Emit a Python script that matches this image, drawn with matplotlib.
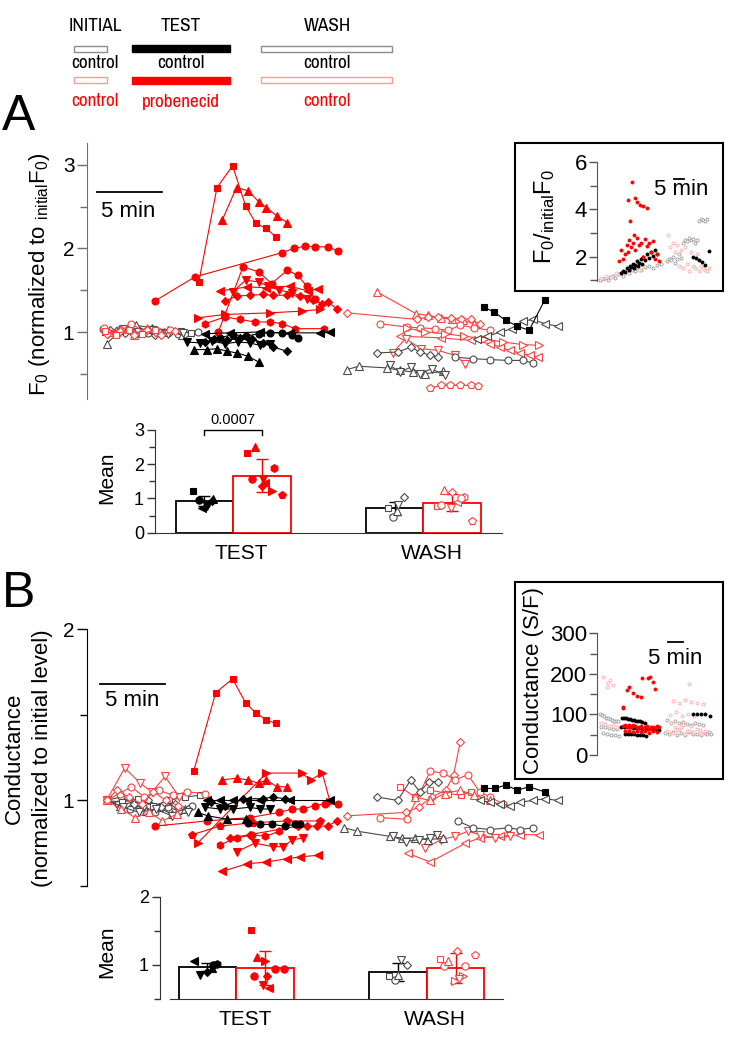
import numpy as np
import matplotlib
matplotlib.use('Agg')
import matplotlib.pyplot as plt
from matplotlib.patches import Rectangle
from matplotlib.ticker import FixedLocator
from matplotlib import font_manager as fm

# ======================= DATA =======================
# ---- Panel A main: time (min), F0 normalised to initial F0 ----
A_ic_o_t = [1.2, 2.4, 3.5, 4.7, 5.9, 7.0, 8.5]
A_ic_o_v = [1.04, 1.02, 1.00, 0.99, 1.00, 0.98, 1.00]
A_ic_tri_t = [1.5, 2.7, 3.8, 5.0, 6.2, 7.3]
A_ic_tri_v = [0.86, 1.03, 1.08, 1.05, 1.02, 0.97]
A_ic_dia_t = [1.8, 2.9, 4.1, 5.2, 6.4, 7.5]
A_ic_dia_v = [1.02, 0.99, 1.01, 0.97, 1.00, 0.98]
A_ic_sq_t = [1.4, 2.5, 3.7, 4.9, 6.0, 7.2, 8.0]
A_ic_sq_v = [1.00, 1.01, 0.98, 1.03, 0.99, 1.01, 0.99]
A_ic_dn_t = [1.6, 2.8, 3.9, 5.1, 6.2, 7.4]
A_ic_dn_v = [0.98, 1.04, 1.00, 1.02, 0.98, 0.99]
A_ir_o_t = [1.3, 2.3, 3.4, 4.4, 5.4, 6.4]
A_ir_o_v = [1.05, 0.98, 1.10, 1.00, 0.99, 1.03]
A_ir_tri_t = [1.7, 2.6, 3.6, 4.6, 5.6]
A_ir_tri_v = [1.00, 1.04, 0.97, 1.05, 1.00]
A_ir_dia_t = [1.5, 2.5, 3.6, 4.6, 5.7, 6.8]
A_ir_dia_v = [0.98, 1.01, 0.96, 1.02, 0.97, 1.01]
A_ir_sq_t = [1.4, 2.2, 3.2, 4.2, 5.2]
A_ir_sq_v = [1.01, 0.97, 1.03, 0.98, 1.02]
A_tr_sq_t = [8.6, 10.0, 11.2, 12.2, 13.0, 13.8, 14.5]
A_tr_sq_v = [1.60, 2.73, 2.99, 2.51, 2.30, 2.24, 2.14]
A_tr_tri_t = [10.4, 11.5, 12.4, 13.2, 13.8, 14.6, 15.4]
A_tr_tri_v = [2.34, 2.73, 2.69, 2.56, 2.49, 2.39, 2.31]
A_tr_o_t = [5.2, 8.3, 15.0, 15.9, 16.8, 17.5, 18.5, 19.3]
A_tr_o_v = [1.37, 1.66, 1.95, 2.00, 2.03, 2.02, 2.02, 1.97]
A_tr_hex_t = [9.1, 10.6, 11.8, 12.9, 14.1, 15.0, 16.0, 18.2]
A_tr_hex_v = [1.10, 1.18, 1.15, 1.12, 1.12, 1.10, 1.04, 1.04]
A_tr_rt_t = [8.5, 10.6, 14.1, 16.5, 17.9]
A_tr_rt_v = [1.17, 1.21, 1.23, 1.25, 1.27]
A_tr_o2_t = [10.1, 12.0, 13.2, 14.2, 15.4, 16.2, 16.9, 17.5]
A_tr_o2_v = [1.00, 1.78, 1.72, 1.58, 1.74, 1.68, 1.55, 1.40]
A_tr_dn_t = [11.2, 12.2, 13.2, 13.9, 14.8, 15.8, 16.9]
A_tr_dn_v = [1.48, 1.62, 1.60, 1.55, 1.50, 1.47, 1.40]
A_tr_lt_t = [10.2, 12.3, 13.8, 15.6, 17.0, 17.8]
A_tr_lt_v = [1.49, 1.54, 1.53, 1.55, 1.49, 1.52]
A_tr_dia_t = [10.6, 11.5, 12.5, 13.5, 14.3, 15.4, 16.4, 17.4, 18.1, 18.5, 19.2]
A_tr_dia_v = [1.37, 1.43, 1.44, 1.45, 1.44, 1.44, 1.43, 1.38, 1.34, 1.36, 1.28]
A_tc_tri_t = [8.2, 9.2, 10.0, 10.8, 11.5, 12.4, 13.2]
A_tc_tri_v = [0.79, 0.79, 0.80, 0.77, 0.75, 0.71, 0.64]
A_tc_dia_t = [9.1, 9.8, 10.8, 11.8, 12.7, 13.5, 14.3, 15.4]
A_tc_dia_v = [0.88, 0.92, 0.90, 0.93, 0.92, 0.87, 0.82, 0.77]
A_tc_dn_t = [7.7, 8.7, 9.6, 10.6, 11.6, 12.5, 13.3, 14.1]
A_tc_dn_v = [0.88, 0.87, 0.89, 0.86, 0.88, 0.87, 0.84, 0.86]
A_tc_o_t = [10.2, 11.2, 12.2, 13.2, 14.1, 15.0, 15.8, 16.2]
A_tc_o_v = [0.93, 0.97, 0.95, 0.98, 0.99, 0.99, 0.96, 0.93]
A_tc_lt_t = [9.1, 11.0, 13.3, 15.6, 17.9, 18.7]
A_tc_lt_v = [0.98, 0.99, 1.00, 0.99, 0.99, 1.00]
A_tc_sq_t = [30.5, 31.3, 32.2, 33.1, 34.0, 35.2]
A_tc_sq_v = [1.30, 1.24, 1.14, 1.07, 1.02, 1.38]
A_wr_tri_t = [22.3, 25.3, 26.2, 27.2, 28.1, 28.9, 29.8]
A_wr_tri_v = [1.48, 1.22, 1.20, 1.17, 1.15, 1.14, 1.10]
A_wr_dia_t = [20.0, 25.4, 26.2, 27.0, 28.0, 28.8, 29.5, 30.2]
A_wr_dia_v = [1.23, 1.15, 1.18, 1.18, 1.17, 1.16, 1.15, 1.10]
A_wr_o_t = [22.5, 24.6, 25.6, 26.8, 27.8, 28.7, 29.8, 31.0]
A_wr_o_v = [1.10, 1.06, 1.05, 1.04, 1.02, 1.08, 1.05, 1.02]
A_wr_lt_t = [24.1, 27.2, 29.5, 31.0, 31.8, 32.5, 33.3, 34.1, 34.7]
A_wr_lt_v = [0.95, 0.93, 0.90, 0.86, 0.82, 0.78, 0.75, 0.72, 0.70]
A_wr_pt_t = [26.4, 27.2, 27.9, 28.7, 29.5, 30.1]
A_wr_pt_v = [0.33, 0.36, 0.36, 0.36, 0.36, 0.35]
A_wr_dn_t = [23.5, 24.5, 25.7, 27.0, 28.3, 29.1]
A_wr_dn_v = [0.75, 0.92, 0.80, 0.78, 0.72, 0.62]
A_wr_rt_t = [24.6, 26.0, 27.5, 29.0, 30.5, 32.0, 33.5, 34.8]
A_wr_rt_v = [1.05, 1.00, 0.98, 0.95, 0.92, 0.88, 0.85, 0.84]
A_wc_dia_t = [22.3, 23.9, 24.9, 25.6, 26.4, 27.0]
A_wc_dia_v = [0.75, 0.76, 0.82, 0.76, 0.72, 0.70]
A_wc_o_t = [28.3, 29.7, 31.0, 32.4, 33.5, 34.3]
A_wc_o_v = [0.70, 0.68, 0.67, 0.66, 0.66, 0.63]
A_wc_tri_t = [20.0, 20.9, 23.1, 24.1, 25.1, 26.0, 27.4]
A_wc_tri_v = [0.55, 0.59, 0.57, 0.54, 0.52, 0.50, 0.53]
A_wc_dn_t = [23.3, 24.1, 24.9, 25.6, 26.5, 27.5]
A_wc_dn_v = [0.60, 0.52, 0.58, 0.50, 0.56, 0.48]
A_wc_lt_t = [30.0, 30.8, 31.8, 32.7, 33.5, 34.3, 35.2, 36.2]
A_wc_lt_v = [0.92, 0.95, 1.00, 1.04, 1.13, 1.15, 1.10, 1.07]

# ---- Panel B main: time (min), conductance normalised to initial ----
B_ic_o_t = [1.5, 2.4, 3.3, 4.3, 5.2, 6.2, 7.1, 8.1]
B_ic_o_v = [1.00, 0.98, 0.95, 0.97, 0.93, 0.96, 0.94, 0.97]
B_ic_tri_t = [1.5, 2.5, 3.5, 4.5, 5.5, 6.5, 7.5]
B_ic_tri_v = [1.00, 0.97, 0.99, 0.94, 0.96, 0.92, 0.95]
B_ic_dia_t = [1.5, 2.6, 3.6, 4.7, 5.7, 6.8, 7.8]
B_ic_dia_v = [1.00, 1.02, 0.98, 1.00, 0.96, 0.98, 0.95]
B_ic_sq_t = [1.5, 2.7, 3.9, 5.1, 6.3, 7.5, 8.7]
B_ic_sq_v = [1.00, 0.99, 1.01, 0.97, 1.00, 1.02, 1.03]
B_ic_dn_t = [1.5, 2.8, 4.0, 5.3, 6.5, 7.8]
B_ic_dn_v = [1.00, 0.96, 0.93, 0.95, 0.91, 0.93]
B_ir_dn_t = [1.5, 2.9, 4.1, 5.0, 6.0, 7.1]
B_ir_dn_v = [1.00, 1.19, 1.10, 1.05, 1.14, 1.02]
B_ir_o_t = [1.5, 2.5, 3.4, 4.4, 5.5, 6.6, 7.7, 9.1]
B_ir_o_v = [1.00, 1.04, 1.08, 1.02, 1.06, 1.03, 1.05, 1.04]
B_ir_tri_t = [1.5, 2.6, 3.7, 4.8, 5.8, 6.9]
B_ir_tri_v = [1.00, 0.95, 0.90, 0.93, 0.88, 0.92]
B_ir_dia_t = [1.5, 2.3, 3.2, 4.2, 5.1, 6.1, 7.0]
B_ir_dia_v = [1.00, 1.06, 1.02, 0.98, 1.05, 1.00, 0.97]
B_tr_sq_t = [8.2, 9.9, 11.2, 12.2, 13.0, 13.8, 14.5]
B_tr_sq_v = [1.17, 1.63, 1.71, 1.57, 1.51, 1.47, 1.45]
B_tr_tri_t = [10.4, 11.5, 12.4, 13.2, 13.8, 14.6, 15.4]
B_tr_tri_v = [1.12, 1.13, 1.12, 1.10, 1.12, 1.08, 1.08]
B_tr_rt_t = [8.5, 13.8, 16.5, 17.2, 18.1, 18.7]
B_tr_rt_v = [0.75, 1.16, 1.16, 1.12, 1.16, 0.99]
B_tr_o_t = [5.2, 9.2, 12.5, 14.8, 15.8, 16.6, 17.5, 18.3, 19.3]
B_tr_o_v = [0.85, 0.88, 0.90, 0.93, 0.95, 0.95, 0.97, 0.98, 0.98]
B_tr_dia_t = [11.0, 12.5, 16.2, 16.9, 17.7, 18.5, 19.2]
B_tr_dia_v = [0.78, 0.80, 0.85, 0.85, 0.85, 0.85, 0.88]
B_tr_hex_t = [10.2, 11.5, 12.7, 13.7, 14.8]
B_tr_hex_v = [0.74, 0.78, 0.80, 0.79, 0.82]
B_tr_dn_t = [11.5, 12.9, 14.3, 15.1, 15.8, 16.6]
B_tr_dn_v = [0.70, 0.75, 0.73, 0.73, 0.77, 0.78]
B_tr_lt_t = [10.4, 12.3, 13.8, 15.4, 16.4, 17.8]
B_tr_lt_v = [0.585, 0.63, 0.64, 0.66, 0.67, 0.68]
B_tr_pt_t = [8.1, 10.2, 12.8, 15.4, 17.9]
B_tr_pt_v = [0.80, 0.85, 0.87, 0.88, 0.88]
B_tc_lt_t = [9.2, 10.2, 11.2, 12.3, 13.3, 15.6, 18.7]
B_tc_lt_v = [1.00, 1.00, 1.00, 1.00, 1.00, 1.00, 1.00]
B_tc_dia_t = [9.5, 10.6, 12.0, 13.5, 14.3, 15.2]
B_tc_dia_v = [0.99, 0.97, 1.01, 1.01, 1.02, 1.01]
B_tc_dn_t = [9.1, 10.2, 11.2, 12.5, 13.3, 14.1]
B_tc_dn_v = [0.96, 0.95, 0.95, 0.96, 0.95, 0.95]
B_tc_tri_t = [8.5, 9.3, 10.8, 12.2]
B_tc_tri_v = [0.93, 0.91, 0.89, 0.89]
B_tc_o_t = [12.4, 13.3, 14.2, 15.2, 16.0, 16.4]
B_tc_o_v = [0.87, 0.86, 0.86, 0.85, 0.86, 0.86]
B_tc_sq_t = [30.5, 31.4, 32.2, 33.1, 34.0, 35.2]
B_tc_sq_v = [1.07, 1.07, 1.09, 1.06, 1.08, 1.05]
B_wc_dia_t = [22.3, 23.9, 24.9, 25.6, 26.3, 27.0]
B_wc_dia_v = [1.02, 1.00, 1.12, 1.05, 1.11, 1.11]
B_wc_lt_t = [30.2, 31.0, 31.8, 32.5, 33.3, 34.3, 35.2, 36.2]
B_wc_lt_v = [1.00, 0.99, 0.98, 0.97, 0.99, 1.00, 1.01, 1.00]
B_wc_tri_t = [19.8, 20.8, 23.3, 24.2, 25.2, 26.2, 27.4]
B_wc_tri_v = [0.84, 0.82, 0.79, 0.78, 0.78, 0.77, 0.78]
B_wc_dn_t = [23.5, 24.5, 25.5, 26.4, 26.9]
B_wc_dn_v = [0.79, 0.76, 0.77, 0.78, 0.80]
B_wc_o_t = [28.5, 29.7, 31.0, 32.4, 33.3, 34.3]
B_wc_o_v = [0.88, 0.84, 0.83, 0.84, 0.83, 0.84]
B_wr_dia_t = [20.0, 24.5, 25.5, 26.5, 27.6, 28.2, 28.7]
B_wr_dia_v = [0.91, 0.93, 0.96, 1.02, 1.06, 1.15, 1.34]
B_wr_o_t = [22.5, 24.6, 26.4, 27.4, 28.3, 29.3, 30.2, 31.0, 32.0]
B_wr_o_v = [0.90, 0.89, 1.17, 1.16, 1.12, 1.15, 1.05, 1.02, 0.98]
B_wr_sq_t = [24.1, 25.2, 26.4, 27.8, 28.8, 29.5]
B_wr_sq_v = [1.08, 1.02, 1.06, 1.04, 1.03, 1.05]
B_wr_tri_t = [25.2, 26.4, 27.5, 28.7, 29.8, 31.0]
B_wr_tri_v = [1.02, 1.00, 1.04, 1.06, 1.03, 1.00]
B_wr_lt_t = [24.7, 26.4, 29.1, 30.2, 31.8, 33.3, 34.8]
B_wr_lt_v = [0.69, 0.64, 0.75, 0.78, 0.79, 0.80, 0.80]
B_wr_dn_t = [26.0, 27.2, 28.3, 29.3, 30.2, 31.4, 32.5]
B_wr_dn_v = [0.72, 0.77, 0.79, 0.82, 0.80, 0.78, 0.79]

# ---- Bar panels ----
phases = ['TEST', 'WASH']
A_bar_ctrl = [0.93, 0.72]
A_bar_ctrl_err = [0.14, 0.19]
A_bar_prob = [1.67, 0.88]
A_bar_prob_err = [0.48, 0.25]
A_p_value = '0.0007'
A_pts_tc_m = ['s', 'o', '<', 'v', 'D', '^']
A_pts_tc_v = [1.23, 0.96, 0.71, 0.78, 0.92, 0.98]
A_pts_tr_m = ['s', '^', 'h', 'o', 'v', 'D', '>', 'p', '<']
A_pts_tr_v = [2.34, 2.51, 1.88, 1.57, 1.56, 1.37, 1.23, 1.09, 1.46]
A_pts_wc_m = ['s', 'o', '^', 'v', 'D']
A_pts_wc_v = [0.71, 0.47, 0.62, 0.81, 1.03]
A_pts_wr_m = ['s', 'o', '^', 'D', 'h', 'p', 'v', '<', 'o']
A_pts_wr_v = [0.78, 0.81, 1.26, 1.20, 1.05, 0.35, 0.71, 0.90, 1.00]

B_bar_ctrl = [0.97, 0.90]
B_bar_ctrl_err = [0.06, 0.13]
B_bar_prob = [0.96, 0.96]
B_bar_prob_err = [0.25, 0.22]
B_pts_tc_m = ['<', 'v', 'D', '^', 'o', 'h']
B_pts_tc_v = [1.06, 0.85, 0.90, 0.95, 1.00, 1.02]
B_pts_tr_m = ['s', '^', '>', 'o', 'D', 'o', 'v', '<', 'o']
B_pts_tr_v = [1.51, 1.11, 1.06, 0.84, 0.84, 0.94, 0.71, 0.66, 0.94]
B_pts_wc_m = ['s', 'o', 'v', 'D', '^']
B_pts_wc_v = [0.83, 0.78, 1.07, 1.00, 0.85]
B_pts_wr_m = ['s', 'o', '^', 'D', 'o', 'p', '>', '>', 'v']
B_pts_wr_v = [1.08, 0.98, 1.05, 1.20, 0.99, 1.15, 0.76, 0.83, 0.80]

# ---- Inset A (raw F0 / initial F0) ----
ia_c_init_x = [1.5, 3, 4, 5.5, 6.5, 8, 9, 10.5, 12, 13, 14.5, 16, 17.5, 19, 20, 22, 24, 26, 28, 30, 32]
ia_c_init_y = [1.0, 1.05, 1.1, 1.0, 1.15, 1.2, 1.1, 1.25, 1.3, 1.2, 1.35, 1.3, 1.45, 1.4, 1.5, 1.45, 1.55, 1.6, 1.5, 1.65, 1.7]
ia_r_init_x = [2, 4.5, 7, 9.5, 11, 13.5, 15, 18, 21, 23]
ia_r_init_y = [1.1, 1.2, 1.15, 1.3, 1.25, 1.4, 1.3, 1.5, 1.45, 1.6]
ia_k_test_x = [12, 13, 14, 15, 16, 16.5, 17, 18, 18.5, 19, 20, 20.5, 21, 22, 22.5, 23, 24, 25, 26, 27, 28, 29, 30]
ia_k_test_y = [1.3, 1.4, 1.35, 1.5, 1.45, 1.6, 1.55, 1.7, 1.5, 1.65, 1.8, 1.6, 1.75, 1.9, 1.7, 2.0, 1.85, 2.1, 1.95, 2.2, 2.05, 2.3, 2.1]
ia_r_test_x = [11, 12, 13, 14, 15, 15.5, 16, 17, 18, 18.5, 19, 20, 21, 22, 23, 24, 25, 26, 27, 28, 29, 30, 31]
ia_r_test_y = [1.8, 2.3, 1.9, 2.1, 2.5, 2.2, 2.7, 2.4, 2.6, 2.9, 2.3, 2.8, 2.5, 2.6, 2.0, 2.75, 2.45, 2.6, 2.2, 2.65, 1.9, 2.1, 1.8]
ia_r_hi_x = [15.7, 16.5, 17.7, 19.0, 19.8, 21.5, 22.8, 24.8]
ia_r_hi_y = [4.4, 3.5, 5.15, 4.47, 4.3, 4.2, 4.15, 4.05]
ia_c_wash_x = [35, 36, 37, 38, 39, 40, 41, 42, 43, 44, 45, 46, 47, 48, 49, 50, 51, 52, 53, 54, 55]
ia_c_wash_y = [1.8, 1.9, 1.85, 2.0, 1.75, 1.9, 2.1, 1.95, 2.6, 2.7, 2.65, 2.8, 2.7, 2.75, 2.6, 2.7, 3.5, 3.6, 3.55, 3.5, 3.6]
ia_r_wash_x = [35.5, 36.5, 38, 39, 40, 41, 42, 43, 44, 45, 46, 47, 48, 49, 50, 51, 52, 53, 54, 55, 56]
ia_r_wash_y = [2.9, 2.4, 2.6, 2.2, 2.5, 1.6, 2.3, 1.5, 2.4, 1.7, 1.4, 2.2, 1.6, 1.5, 2.1, 1.4, 1.6, 1.5, 1.45, 1.4, 1.5]
ia_k_wash_x = [48, 49.5, 51, 52.5, 54, 55.8]
ia_k_wash_y = [2.0, 1.93, 1.85, 1.78, 1.65, 2.25]

# ---- Inset B (conductance, S/F) ----
ib_c_init_x = [1.5, 2.5, 3.5, 4.5, 5.5, 6.5, 7.5, 8.5, 9.5, 10.5, 2, 4, 6, 8, 10, 3, 5, 7, 9, 11]
ib_c_init_y = [100, 98, 95, 92, 90, 88, 86, 85, 84, 83, 70, 68, 66, 65, 64, 55, 52, 50, 49, 48]
ib_r_init_x = [3, 4.8, 6.5, 8, 5.5, 2, 4, 6, 8, 10]
ib_r_init_y = [193, 168, 185, 172, 178, 80, 76, 72, 74, 70]
ib_k_test_x = [12.3, 13.5, 14.5, 15.5, 16.5, 17.5, 18.5, 19.5, 20.5, 21.5, 22.5, 24,
               12, 13.5, 15, 16.5, 18, 19.5, 21, 22.5, 24, 25.5, 27, 28.5, 30, 31,
               14, 15.5, 17, 18.5, 20, 21.5, 23, 24.5]
ib_k_test_y = [92, 91, 90, 89, 88, 87, 86, 85, 84, 83, 82, 80,
               70, 69, 68, 68, 67, 66, 66, 65, 64, 64, 63, 63, 62, 62,
               53, 52, 52, 51, 50, 50, 49, 48]
ib_r_test_x = [13, 14, 15, 16, 17, 18, 19, 20, 21, 22, 23, 24, 25, 26, 27, 28, 29, 30, 31,
               14, 16, 18, 20, 22, 24, 26, 28, 30]
ib_r_test_y = [72, 75, 70, 74, 68, 73, 71, 66, 70, 72, 65, 69, 71, 64, 68, 70, 66, 72, 68,
               58, 60, 56, 59, 57, 60, 55, 58, 57]
ib_r_hi_x = [12.8, 13.2, 14.8, 16, 18.2, 19.8, 21.8, 22.3, 25.7, 26.5, 28.2, 29]
ib_r_hi_y = [119, 115, 160, 168, 152, 145, 144, 189, 189, 193, 181, 162]
ib_c_wash_x = [34, 35, 36, 37, 38, 39, 40, 41, 42, 43, 44, 45, 46, 47, 48, 49, 50, 51, 52, 53, 54, 55, 56, 57]
ib_c_wash_y = [55, 86, 52, 80, 57, 84, 50, 78, 55, 82, 49, 76, 56, 74, 51, 80, 53, 77, 50, 75, 54, 52, 56, 53]
ib_r_wash_x = [35, 36.5, 38, 39.5, 41, 42.5, 44, 45.5, 47, 48.5, 50, 51.5, 53,
               37, 39, 41, 43, 45, 47, 38, 40, 42, 44, 46, 48, 50, 52, 54, 46]
ib_r_wash_y = [60, 98, 132, 105, 128, 95, 135, 100, 130, 97, 127, 62, 125,
               78, 70, 65, 75, 58, 72, 55, 62, 68, 53, 60, 57, 65, 54, 58, 174]
ib_k_wash_x = [48, 50, 52, 54, 56.5]
ib_k_wash_y = [100, 102, 101, 100, 97]

# ======================= STYLE / LAYOUT =======================
plt.rcParams['font.family'] = ['Liberation Sans', 'DejaVu Sans']
plt.rcParams['mathtext.fontset'] = 'custom'
plt.rcParams['mathtext.rm'] = 'Liberation Sans'
plt.rcParams['mathtext.it'] = 'Liberation Sans:italic'
plt.rcParams['mathtext.bf'] = 'Liberation Sans:bold'

W, H = 746, 1055
fig = plt.figure(figsize=(W / 100, H / 100), dpi=100)
renderer = fig.canvas.get_renderer()


def text_width(fp, s, size):
    fp2 = fp.copy()
    fp2.set_size(size)
    t = fig.text(0, 0, s, fontproperties=fp2)
    w = t.get_window_extent(renderer).width
    t.remove()
    return w


def pick_narrow_font(sample='probenecid', target_px=78.0):
    """Prefer a moderately condensed sans face (Arial-Narrow-like); else shrink Liberation Sans."""
    base = fm.FontProperties(family='Liberation Sans')
    best, best_err = None, 1e9
    bad = ('mono', 'serif', 'code', 'extra', 'ultra', 'semi', 'cjk', 'math')
    for f in fm.fontManager.ttflist:
        nm = f.name.lower()
        if not (('narrow' in nm) or ('condensed' in nm)):
            continue
        if any(b in nm for b in bad) and 'sans' not in nm.replace('serif', ''):
            continue
        if any(b in nm for b in ('mono', 'serif', 'extra', 'ultra', 'cjk')):
            continue
        if f.style != 'normal' or f.weight not in (400, 'normal', 'regular', 'book'):
            continue
        fp = fm.FontProperties(fname=f.fname)
        try:
            w = text_width(fp, sample, 16)
        except Exception:
            continue
        if w < 70 or w > 100:
            continue
        err = abs(w - target_px)
        if err < best_err:
            best, best_err, best_w = fp, err, w
    if best is None:
        best = base
        best_w = text_width(base, sample, 16)
    size = max(11.0, min(16.0, 16 * target_px / best_w))
    out = best.copy()
    out.set_size(size)
    return out


NARROW_FP = pick_narrow_font()


def px_axes(l, t, r, b, z=1):
    return fig.add_axes([l / W, 1 - b / H, (r - l) / W, (b - t) / H], zorder=z)


RED = '#ff0000'
PINK = '#ff4040'
DARK = '#4a4a4a'
STY = {
    'kf': dict(color='black', mfc='black', mec='black'),
    'rf': dict(color=RED, mfc=RED, mec=RED),
    'ko': dict(color=DARK, mfc='white', mec=DARK),
    'ro': dict(color=PINK, mfc='white', mec=PINK),
}
MS = {'o': 5, 's': 4.6, '^': 5.3, 'v': 5.3, '<': 5.3, '>': 5.3, 'D': 3.9, 'h': 5.3, 'p': 5.3}


def draw_series(ax, table):
    for t, v, m, k in table:
        z = 4 if k in ('kf', 'rf') else 3
        ax.plot(t, v, marker=m, ms=MS[m], mew=0.8, lw=0.8, zorder=z, clip_on=False, **STY[k])


A_table = [
    (A_ic_o_t, A_ic_o_v, 'o', 'ko'), (A_ic_tri_t, A_ic_tri_v, '^', 'ko'),
    (A_ic_dia_t, A_ic_dia_v, 'D', 'ko'), (A_ic_sq_t, A_ic_sq_v, 's', 'ko'),
    (A_ic_dn_t, A_ic_dn_v, 'v', 'ko'),
    (A_ir_o_t, A_ir_o_v, 'o', 'ro'), (A_ir_tri_t, A_ir_tri_v, '^', 'ro'),
    (A_ir_dia_t, A_ir_dia_v, 'D', 'ro'), (A_ir_sq_t, A_ir_sq_v, 's', 'ro'),
    (A_wr_tri_t, A_wr_tri_v, '^', 'ro'), (A_wr_dia_t, A_wr_dia_v, 'D', 'ro'),
    (A_wr_o_t, A_wr_o_v, 'o', 'ro'), (A_wr_lt_t, A_wr_lt_v, '<', 'ro'),
    (A_wr_pt_t, A_wr_pt_v, 'p', 'ro'), (A_wr_dn_t, A_wr_dn_v, 'v', 'ro'),
    (A_wr_rt_t, A_wr_rt_v, '>', 'ro'),
    (A_wc_dia_t, A_wc_dia_v, 'D', 'ko'), (A_wc_o_t, A_wc_o_v, 'o', 'ko'),
    (A_wc_tri_t, A_wc_tri_v, '^', 'ko'), (A_wc_dn_t, A_wc_dn_v, 'v', 'ko'),
    (A_wc_lt_t, A_wc_lt_v, '<', 'ko'),
    (A_tr_sq_t, A_tr_sq_v, 's', 'rf'), (A_tr_tri_t, A_tr_tri_v, '^', 'rf'),
    (A_tr_o_t, A_tr_o_v, 'o', 'rf'), (A_tr_hex_t, A_tr_hex_v, 'h', 'rf'),
    (A_tr_rt_t, A_tr_rt_v, '>', 'rf'), (A_tr_o2_t, A_tr_o2_v, 'o', 'rf'),
    (A_tr_dn_t, A_tr_dn_v, 'v', 'rf'), (A_tr_lt_t, A_tr_lt_v, '<', 'rf'),
    (A_tr_dia_t, A_tr_dia_v, 'D', 'rf'),
    (A_tc_tri_t, A_tc_tri_v, '^', 'kf'), (A_tc_dia_t, A_tc_dia_v, 'D', 'kf'),
    (A_tc_dn_t, A_tc_dn_v, 'v', 'kf'), (A_tc_o_t, A_tc_o_v, 'o', 'kf'),
    (A_tc_lt_t, A_tc_lt_v, '<', 'kf'), (A_tc_sq_t, A_tc_sq_v, 's', 'kf'),
]

B_table = [
    (B_ic_o_t, B_ic_o_v, 'o', 'ko'), (B_ic_tri_t, B_ic_tri_v, '^', 'ko'),
    (B_ic_dia_t, B_ic_dia_v, 'D', 'ko'), (B_ic_sq_t, B_ic_sq_v, 's', 'ko'),
    (B_ic_dn_t, B_ic_dn_v, 'v', 'ko'),
    (B_ir_dn_t, B_ir_dn_v, 'v', 'ro'), (B_ir_o_t, B_ir_o_v, 'o', 'ro'),
    (B_ir_tri_t, B_ir_tri_v, '^', 'ro'), (B_ir_dia_t, B_ir_dia_v, 'D', 'ro'),
    (B_wr_dia_t, B_wr_dia_v, 'D', 'ro'), (B_wr_o_t, B_wr_o_v, 'o', 'ro'),
    (B_wr_sq_t, B_wr_sq_v, 's', 'ro'), (B_wr_tri_t, B_wr_tri_v, '^', 'ro'),
    (B_wr_lt_t, B_wr_lt_v, '<', 'ro'), (B_wr_dn_t, B_wr_dn_v, 'v', 'ro'),
    (B_wc_dia_t, B_wc_dia_v, 'D', 'ko'), (B_wc_lt_t, B_wc_lt_v, '<', 'ko'),
    (B_wc_tri_t, B_wc_tri_v, '^', 'ko'), (B_wc_dn_t, B_wc_dn_v, 'v', 'ko'),
    (B_wc_o_t, B_wc_o_v, 'o', 'ko'),
    (B_tr_sq_t, B_tr_sq_v, 's', 'rf'), (B_tr_tri_t, B_tr_tri_v, '^', 'rf'),
    (B_tr_rt_t, B_tr_rt_v, '>', 'rf'), (B_tr_o_t, B_tr_o_v, 'o', 'rf'),
    (B_tr_dia_t, B_tr_dia_v, 'D', 'rf'), (B_tr_hex_t, B_tr_hex_v, 'h', 'rf'),
    (B_tr_dn_t, B_tr_dn_v, 'v', 'rf'), (B_tr_lt_t, B_tr_lt_v, '<', 'rf'),
    (B_tr_pt_t, B_tr_pt_v, 'p', 'rf'),
    (B_tc_lt_t, B_tc_lt_v, '<', 'kf'), (B_tc_dia_t, B_tc_dia_v, 'D', 'kf'),
    (B_tc_dn_t, B_tc_dn_v, 'v', 'kf'), (B_tc_tri_t, B_tc_tri_v, '^', 'kf'),
    (B_tc_o_t, B_tc_o_v, 'o', 'kf'), (B_tc_sq_t, B_tc_sq_v, 's', 'kf'),
]

# ---------- overlay in pixel coords (legend, labels) ----------
ov = fig.add_axes([0, 0, 1, 1], zorder=0)
ov.set_xlim(0, W)
ov.set_ylim(H, 0)
ov.axis('off')

leg_x = [95, 181, 327]
for x, s in zip(leg_x, ['INITIAL', 'TEST', 'WASH']):
    ov.text(x, 31, s, ha='center', va='baseline', fontproperties=NARROW_FP)
for x, s in zip(leg_x, ['control', 'control', 'control']):
    ov.text(x, 68, s, ha='center', va='baseline', fontproperties=NARROW_FP, color='black')
for x, s in zip(leg_x, ['control', 'probenecid', 'control']):
    ov.text(x, 106.5, s, ha='center', va='baseline', fontproperties=NARROW_FP, color=RED)
ov.add_patch(Rectangle((74, 46), 33, 6, fc='white', ec='#8c8c8c', lw=1))
ov.add_patch(Rectangle((132, 45), 98, 7, fc='black', ec='black', lw=1))
ov.add_patch(Rectangle((261, 46), 131, 6, fc='white', ec='#8c8c8c', lw=1))
ov.add_patch(Rectangle((74, 77), 33, 6, fc='white', ec='#ff9a9a', lw=1))
ov.add_patch(Rectangle((132, 77), 98, 7, fc=RED, ec=RED, lw=1))
ov.add_patch(Rectangle((261, 77), 131, 6, fc='white', ec='#ff9a9a', lw=1))

ov.text(2, 130.5, 'A', fontsize=36, ha='left', va='baseline')
ov.text(2, 607, 'B', fontsize=36, ha='left', va='baseline')
ov.text(40, 274, r'$\mathregular{F_0}$ (normalized to $\mathregular{_{initial}F_0}$)',
        rotation=90, ha='center', va='center', fontsize=16)
ov.text(14, 758, 'Conductance', rotation=90, ha='center', va='center', fontsize=16)
ov.text(43, 758, '(normalized to initial level)', rotation=90, ha='center', va='center', fontsize=16)
ov.text(107, 478, 'Mean', rotation=90, ha='center', va='center', fontsize=15)
ov.text(107, 952, 'Mean', rotation=90, ha='center', va='center', fontsize=15)

# inset boxes
ov.add_patch(Rectangle((515, 143), 208, 148, fc='white', ec='black', lw=1.5, zorder=5))
ov.add_patch(Rectangle((515, 582), 208, 197, fc='white', ec='black', lw=1.5, zorder=5))
ov.text(545, 217, r'$\mathregular{F_0/_{initial}F_0}$', rotation=90, ha='center', va='center',
        fontsize=17, zorder=6)
ov.text(533, 680, 'Conductance (S/F)', rotation=90, ha='center', va='center', fontsize=16, zorder=6)


def style_left(ax, color, major, minor, labsize, maj_len=7, min_len=5):
    for s in ['top', 'right', 'bottom']:
        ax.spines[s].set_visible(False)
    ax.spines['left'].set_color(color)
    ax.set_xticks([])
    ax.set_yticks(major)
    ax.yaxis.set_minor_locator(FixedLocator(minor))
    ax.tick_params(axis='y', which='major', length=maj_len, width=1, color=color,
                   labelsize=labsize, pad=2)
    ax.tick_params(axis='y', which='minor', length=min_len, width=1, color=color)
    ax.set_facecolor('none')


# ---------- Panel A main ----------
axA = px_axes(87, 143, 570, 399, z=2)
axA.set_xlim(0, 37.15)
axA.set_ylim(0.198, 3.263)
style_left(axA, '#6e6e6e', [1, 2, 3], [0.5, 1.5, 2.5], 15)
draw_series(axA, A_table)
axA.plot([0.77, 5.77], [2.68, 2.68], color='black', lw=1.3)
axA.text(3.2, 2.57, '5 min', ha='center', va='top', fontsize=16)

# ---------- Panel B main ----------
axB = px_axes(87, 629.3, 570, 886, z=2)
axB.set_xlim(0, 37.15)
axB.set_ylim(0.5, 2.0)
style_left(axB, 'black', [1, 2], [0.5, 1.5], 15)
draw_series(axB, B_table)
axB.plot([1.0, 6.0], [1.68, 1.68], color='black', lw=1.3)
axB.text(3.5, 1.645, '5 min', ha='center', va='top', fontsize=16)


# ---------- bar panels ----------
def bar_panel(ax, ctrl, ctrl_err, prob, prob_err, pts, jit, ylim, major, minor):
    x = np.arange(len(phases))
    w = 0.302
    ax.bar(x - w / 2, ctrl, w, color='white', edgecolor='black', lw=1.3, zorder=2)
    ax.bar(x + w / 2, prob, w, color='white', edgecolor=RED, lw=1.3, zorder=2)
    ax.errorbar(x - w / 2, ctrl, yerr=ctrl_err, fmt='none', ecolor='black',
                capsize=4, elinewidth=1, capthick=1, zorder=3)
    ax.errorbar(x + w / 2, prob, yerr=prob_err, fmt='none', ecolor=RED,
                capsize=4, elinewidth=1, capthick=1, zorder=3)
    for (ms_, vs, k, gi, side), js in zip(pts, jit):
        cx = x[gi] + side * w / 2
        for m, v, j in zip(ms_, vs, js):
            st = STY[k]
            ax.plot(cx + j, v, marker=m, ms=MS[m] * 1.05, mew=0.8, ls='none',
                    mfc=st['mfc'], mec=st['mec'], zorder=4, clip_on=False)
    ax.set_ylim(*ylim)
    ax.set_xlim(-0.41, 1.413)
    for s in ['top', 'right']:
        ax.spines[s].set_visible(False)
    ax.spines['left'].set_color('#333333')
    ax.spines['bottom'].set_color('#333333')
    ax.set_yticks(major)
    ax.yaxis.set_minor_locator(FixedLocator(minor))
    ax.tick_params(axis='y', which='major', length=6, width=1, color='#333333', labelsize=13, pad=2)
    ax.tick_params(axis='y', which='minor', length=4, width=1, color='#333333')
    ax.set_xticks(x + 0.045)
    ax.set_xticklabels(phases, fontsize=15)
    ax.tick_params(axis='x', length=0, pad=8)
    ax.set_facecolor('none')
    return x, w


axAb = px_axes(155, 430, 502, 532.7, z=3)
A_pts = [(A_pts_tc_m, A_pts_tc_v, 'kf', 0, -1), (A_pts_tr_m, A_pts_tr_v, 'rf', 0, 1),
         (A_pts_wc_m, A_pts_wc_v, 'ko', 1, -1), (A_pts_wr_m, A_pts_wr_v, 'ro', 1, 1)]
A_jit = [[-0.058, -0.026, -0.01, 0.016, 0.042, 0.047],
         [-0.079, -0.037, 0.063, -0.053, 0.005, 0.0, 0.053, 0.105, 0.016],
         [-0.037, -0.01, 0.01, 0.02, 0.047],
         [-0.079, -0.058, -0.042, 0.0, 0.063, 0.105, -0.005, 0.026, 0.047]]
xA, wA = bar_panel(axAb, A_bar_ctrl, A_bar_ctrl_err, A_bar_prob, A_bar_prob_err,
                   A_pts, A_jit, (0, 3), [0, 1, 2, 3], [0.5, 1.5, 2.5])
bx0, bx1 = xA[0] - wA / 2, xA[0] + wA / 2
axAb.plot([bx0, bx0, bx1, bx1], [2.85, 3.0, 3.0, 2.85], color='black', lw=1, clip_on=False)
axAb.text(xA[0], 3.08, A_p_value, ha='center', va='bottom', fontsize=10.5)

axBb = px_axes(160, 896.7, 503, 999, z=3)
B_pts = [(B_pts_tc_m, B_pts_tc_v, 'kf', 0, -1), (B_pts_tr_m, B_pts_tr_v, 'rf', 0, 1),
         (B_pts_wc_m, B_pts_wc_v, 'ko', 1, -1), (B_pts_wr_m, B_pts_wr_v, 'ro', 1, 1)]
B_jit = [[-0.07, -0.04, 0.0, 0.025, 0.03, 0.05],
         [-0.076, -0.04, 0.0, -0.06, 0.008, 0.055, -0.013, 0.02, 0.10],
         [-0.045, -0.018, 0.018, 0.045, 0.0],
         [-0.084, -0.058, -0.042, 0.005, 0.052, 0.10, -0.005, 0.037, 0.02]]
bar_panel(axBb, B_bar_ctrl, B_bar_ctrl_err, B_bar_prob, B_bar_prob_err,
          B_pts, B_jit, (0.5, 2.0), [1, 2], [0.5, 1.5])
axBb.set_xlim(-0.40, 1.40)
axBb.spines['bottom'].set_bounds(-0.345, 1.40)


# ---------- insets ----------
def inset_scatter(ax, groups):
    for x, y, m, fc, ec in groups:
        ax.plot(x, y, marker=m, ms=2.2, mew=0.6, ls='none', mfc=fc, mec=ec, zorder=3)


def inset_axis(ax, ylim, bounds, major, minor):
    ax.set_xlim(0, 61.5)
    ax.set_ylim(*ylim)
    for s in ['top', 'right', 'bottom']:
        ax.spines[s].set_visible(False)
    ax.spines['left'].set_color('#555555')
    ax.spines['left'].set_bounds(*bounds)
    ax.set_xticks([])
    ax.set_yticks(major)
    ax.yaxis.set_minor_locator(FixedLocator(minor))
    ax.tick_params(axis='y', which='major', length=6, width=1, color='#555555', labelsize=16, pad=1)
    ax.tick_params(axis='y', which='minor', length=5, width=1, color='#555555')
    ax.set_facecolor('none')


axIA = px_axes(597, 150, 720, 287, z=6)
inset_axis(axIA, (0.716, 6.52), (0.95, 6), [2, 4, 6], [1, 3, 5])
inset_scatter(axIA, [
    (ia_c_init_x, ia_c_init_y, 'o', 'white', '#9a9a9a'),
    (ia_r_init_x, ia_r_init_y, 'o', 'white', '#ffb0b0'),
    (ia_c_wash_x, ia_c_wash_y, 'o', 'white', '#9a9a9a'),
    (ia_r_wash_x, ia_r_wash_y, 'o', 'white', '#ffaaaa'),
    (ia_k_test_x, ia_k_test_y, 'o', 'black', 'black'),
    (ia_r_test_x, ia_r_test_y, 'o', RED, RED),
    (ia_r_hi_x, ia_r_hi_y, 'o', RED, RED),
    (ia_k_wash_x, ia_k_wash_y, 'o', 'black', 'black'),
])
axIA.plot([38.5, 43.5], [5.3, 5.3], color='black', lw=1.3)
axIA.text(42, 4.85, '5 min', ha='center', va='center', fontsize=16)

axIB = px_axes(597, 610, 720, 775, z=6)
inset_axis(axIB, (-49.3, 357.5), (0, 300), [0, 100, 200, 300], [50, 150, 250])
inset_scatter(axIB, [
    (ib_c_init_x, ib_c_init_y, 'o', 'white', '#9a9a9a'),
    (ib_r_init_x, ib_r_init_y, 'o', 'white', '#ffb0b0'),
    (ib_c_wash_x, ib_c_wash_y, 'o', 'white', '#9a9a9a'),
    (ib_r_wash_x, ib_r_wash_y, 'o', 'white', '#ffaaaa'),
    (ib_k_test_x, ib_k_test_y, 'o', 'black', 'black'),
    (ib_r_test_x, ib_r_test_y, 'o', RED, RED),
    (ib_r_hi_x, ib_r_hi_y, 'o', RED, RED),
    (ib_k_wash_x, ib_k_wash_y, 'o', 'black', 'black'),
])
axIB.plot([35.5, 43.0], [278, 278], color='black', lw=1.3)
axIB.text(39, 238, '5 min', ha='center', va='center', fontsize=16)

fig.savefig('out.png', dpi=100)
